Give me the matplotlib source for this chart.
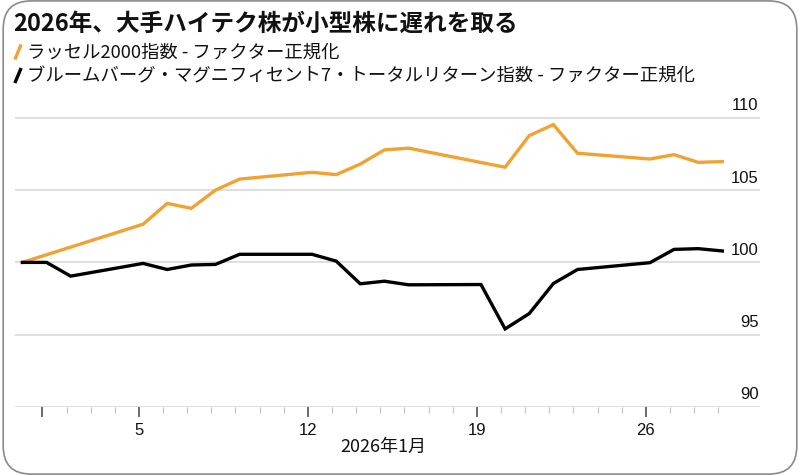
import matplotlib.pyplot as plt
import numpy as np
from matplotlib.patches import FancyBboxPatch
from matplotlib.lines import Line2D
from matplotlib.transforms import offset_copy
from matplotlib.ticker import FixedLocator, FixedFormatter

plt.rcParams['font.family'] = ['Noto Sans CJK JP', 'DejaVu Sans']

# day of January 2026 (0 = Dec 31 close)
russell_days = [0, 5, 6, 7, 8, 9, 12, 13, 14, 15, 16, 20, 21, 22, 23, 26, 27, 28, 29]
russell = [100, 102.64, 104.08, 103.74, 105.0, 105.76, 106.23, 106.07, 106.8,
           107.78, 107.9, 106.58, 108.77, 109.53, 107.55, 107.15, 107.45, 106.92, 106.97]

mag7_days = [0, 1, 2, 5, 6, 7, 8, 9, 12, 13, 14, 15, 16, 19, 20, 21, 22, 23, 26, 27, 28, 29]
mag7 = [100, 100, 99.05, 99.93, 99.51, 99.82, 99.86, 100.56, 100.56, 100.09, 98.52,
        98.70, 98.45, 98.47, 95.40, 96.46, 98.54, 99.51, 99.98, 100.90, 100.95, 100.79]

yticks = [90, 95, 100, 105, 110]
major_days = [1, 5, 12, 19, 26]
major_labels = ['', '5', '12', '19', '26']
minor_days = list(range(1, 30))

title = '2026年、大手ハイテク株が小型株に遅れを取る'
legend_labels = ['ラッセル2000指数 - ファクター正規化',
                 'ブルームバーグ・マグニフィセント7・トータルリターン指数 - ファクター正規化']
month_label = '2026年1月'

ORANGE = '#f0a232'
BLACK = '#000000'
GRID = '#dcdcdc'
close_offset = 0.17  # closing prices sit slightly right of the day tick

fig = plt.figure(figsize=(8, 4.77), dpi=100)
fig.patch.set_facecolor('white')

# rounded border round the whole card
fig.add_artist(FancyBboxPatch((0.004, 0.004), 0.992, 0.992,
                              boxstyle='round,pad=0,rounding_size=0.035',
                              transform=fig.transFigure, facecolor='none',
                              edgecolor='#8a8a8a', linewidth=1.2,
                              mutation_aspect=800 / 477))

ax = fig.add_axes([15 / 800, 1 - 408 / 477, 745 / 800, (408 - 100) / 477])
ax.plot(np.array(russell_days) + close_offset, russell, color=ORANGE, lw=2.4,
        solid_joinstyle='miter', zorder=3)
ax.plot(np.array(mag7_days) + close_offset, mag7, color=BLACK, lw=2.4,
        solid_joinstyle='miter', zorder=3)

ax.set_xlim(-0.135, 30.73)
ax.set_ylim(90, 111.3)

for s in ax.spines.values():
    s.set_visible(False)

ax.set_yticks(yticks)
ax.yaxis.grid(True, color=GRID, lw=1.3)
ax.tick_params(axis='y', length=0, labelleft=False)
ax.set_axisbelow(True)

lab_tr = offset_copy(ax.get_yaxis_transform(), fig=fig, x=-1, y=4, units='points')
for v in yticks:
    ax.text(1.0, v, str(v), transform=lab_tr, ha='right', va='bottom',
            fontsize=12, family=['Liberation Sans', 'DejaVu Sans'], color='#111111')

ax.xaxis.set_major_locator(FixedLocator(major_days))
ax.xaxis.set_major_formatter(FixedFormatter(major_labels))
ax.xaxis.set_minor_locator(FixedLocator(minor_days))
ax.tick_params(axis='x', which='major', length=7, width=1.1, color='#444444',
               labelsize=12, pad=4, labelcolor='#111111')
ax.tick_params(axis='x', which='minor', length=4, width=0.9, color='#c4c4c4')
for t in ax.get_xticklabels():
    t.set_family(['Liberation Sans', 'DejaVu Sans'])

fig.text(383 / 800, 1 - 447 / 477, month_label, ha='center', va='center',
         fontsize=13, color='#111111')

fig.text(13 / 800, 1 - 24 / 477, title, ha='left', va='center',
         fontsize=17, fontweight='bold', color='#111111')

for i, (lab, col) in enumerate(zip(legend_labels, [ORANGE, BLACK])):
    yc = 53 + i * 23.5
    fig.add_artist(Line2D([15.5 / 800, 20.5 / 800], [1 - (yc + 6) / 477, 1 - (yc - 6) / 477],
                          color=col, lw=2.4, transform=fig.transFigure))
    fig.text(27 / 800, 1 - yc / 477, lab, ha='left', va='center',
             fontsize=13.2, color='#111111')

fig.savefig('out.png', dpi=100, facecolor='white')
